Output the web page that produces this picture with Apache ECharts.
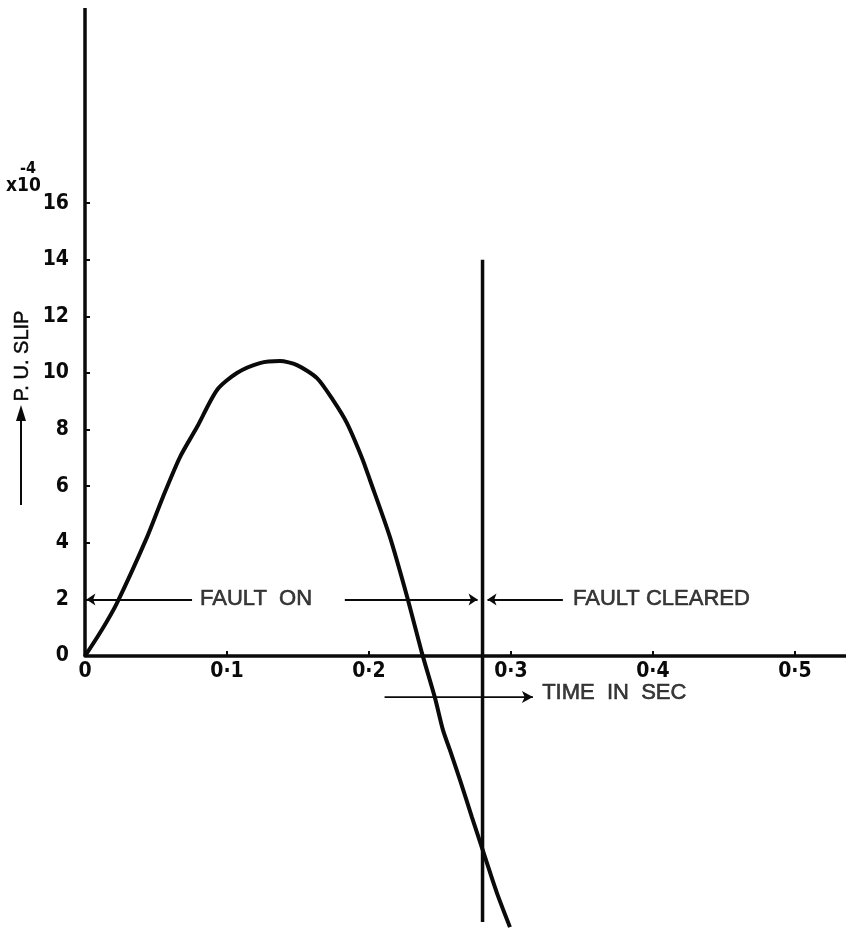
<!DOCTYPE html>
<html>
<head>
<meta charset="utf-8">
<title>P.U. slip vs time</title>
<script src="https://cdn.jsdelivr.net/npm/echarts@6/dist/echarts.min.js"></script>
<style>
  html, body { margin: 0; padding: 0; background: #ffffff; }
  #chart { width: 846px; height: 929px; }
</style>
</head>
<body>
<div id="chart"></div>
<script>
// Rotor slip (per unit, x10^-4) against time (s) during and after a fault
const timeSec = [0, 0.0118, 0.0225, 0.0437, 0.0549, 0.0669, 0.0789, 0.0930, 0.1070, 0.1232,
  0.1373, 0.1493, 0.1634, 0.1746, 0.1845, 0.1951, 0.2007, 0.2148, 0.2275, 0.2373,
  0.2465, 0.2521, 0.2570, 0.2641, 0.2725, 0.2817, 0.2901, 0.2993];
const puSlip = [0, 0.92, 1.87, 4.20, 5.62, 7.03, 8.09, 9.40, 10.0, 10.35,
  10.42, 10.28, 9.82, 9.05, 8.23, 7.00, 6.22, 4.20, 1.98, 0.11,
  -1.48, -2.61, -3.32, -4.38, -5.69, -7.10, -8.37, -9.58];

// Axis ticks and labels
const yTickValues = [2, 4, 6, 8, 10, 12, 14, 16];
const yLabelValues = [0, 2, 4, 6, 8, 10, 12, 14, 16];
const xTickValues = [0.1, 0.2, 0.3, 0.4, 0.5];
const xLabelValues = [0, 0.1, 0.2, 0.3, 0.4, 0.5];

// Fault clearing instant and the vertical marker through it
const faultClearTime = 0.28;
const faultMarkerTop = 14;
const faultMarkerBottom = -9.4;

// Extent of the drawn slip axis
const slipAxisTop = 22.9;

// Arrows along the slip = 2 line [fromTime, toTime, slip]
const faultArrows = [
  [0.0754, 0.001, 2],
  [0.183, 0.2765, 2],
  [0.3366, 0.2835, 2]
];
// Arrow under the time axis [fromTime, toTime, slip]
const timeArrow = [0.211, 0.3155, -1.45];

// Annotation texts [time, slip, text]
const annotationTexts = [
  [0.081, 2, 'FAULT  ON'],
  [0.3437, 2, 'FAULT CLEARED'],
  [0.322, -1.3, 'TIME  IN  SEC']
];

const INK = '#0a0a0a';
const FONT = "'Liberation Sans', Arial, sans-serif";
const NUM_FONT = "'Liberation Sans Narrow', 'DejaVu Sans Condensed', sans-serif";

const chart = echarts.init(document.getElementById('chart'), null, { renderer: 'canvas' });

const curveData = timeSec.map((t, i) => [t, puSlip[i]]);

const option = {
  backgroundColor: '#ffffff',
  animation: false,
  // the plotting area ends at zero slip; the negative part of the swing is drawn unclipped below it
  grid: { left: 85, right: 0, top: 5.1, bottom: 273, containLabel: false, outerBoundsMode: 'none' },
  xAxis: {
    type: 'value',
    min: 0,
    max: 0.536,
    axisLine: { show: true, onZero: false, lineStyle: { color: INK, width: 3.5 } },
    axisTick: {
      show: true, inside: true, length: 5, customValues: xTickValues,
      lineStyle: { color: INK, width: 2 }
    },
    axisLabel: {
      show: true, customValues: xLabelValues, margin: 5,
      color: INK, fontFamily: NUM_FONT, fontWeight: 'bold', fontSize: 21,
      formatter: v => (v === 0 ? '0' : v.toFixed(1).replace('.', '·'))
    },
    splitLine: { show: false }
  },
  yAxis: {
    type: 'value',
    min: 0,
    max: 23,
    axisLine: { show: false },
    axisTick: {
      show: true, inside: true, length: 5, customValues: yTickValues,
      lineStyle: { color: INK, width: 2 }
    },
    axisLabel: {
      show: true, customValues: yLabelValues, margin: 16,
      color: INK, fontFamily: NUM_FONT, fontWeight: 'bold', fontSize: 21
    },
    splitLine: { show: false }
  },
  series: [
    {
      name: 'slip',
      type: 'line',
      data: curveData,
      showSymbol: false,
      smooth: 0.25,
      clip: false,
      lineStyle: { color: INK, width: 4 },
      z: 4
    },
    {
      name: 'slip axis',
      type: 'line',
      data: [[0, 0], [0, slipAxisTop]],
      showSymbol: false,
      clip: false,
      lineStyle: { color: INK, width: 3.5 },
      z: 3
    },
    {
      name: 'fault cleared',
      type: 'line',
      data: [[faultClearTime, faultMarkerTop], [faultClearTime, faultMarkerBottom]],
      showSymbol: false,
      clip: false,
      lineStyle: { color: INK, width: 3.5 },
      z: 3,
      markLine: {
        silent: true,
        symbol: ['none', 'arrow'],
        symbolSize: 9,
        label: { show: false },
        lineStyle: { color: INK, width: 1.8, type: 'solid' },
        itemStyle: { color: INK },
        emphasis: { disabled: true },
        data: faultArrows.map(a => [
          { coord: [a[0], a[2]] },
          { coord: [a[1], a[2]] }
        ])
      }
    },
    {
      name: 'time arrow',
      type: 'line',
      clip: false,
      silent: true,
      showSymbol: true,
      symbol: 'none',
      lineStyle: { color: INK, width: 1.8 },
      itemStyle: { color: INK },
      data: [
        { value: [timeArrow[0], timeArrow[2]], symbol: 'none' },
        { value: [timeArrow[1], timeArrow[2]], symbol: 'arrow', symbolSize: [9, 11], symbolRotate: -90 }
      ],
      z: 3
    },
    {
      name: 'notes',
      type: 'scatter',
      symbolSize: 0,
      clip: false,
      silent: true,
      data: annotationTexts.map(a => ({ value: [a[0], a[1]], name: a[2] })),
      label: {
        show: true,
        position: 'right',
        distance: 0,
        formatter: '{b}',
        color: INK,
        fontFamily: FONT,
        fontSize: 22,
        textBorderColor: INK,
        textBorderWidth: 0.6
      },
      z: 5
    }
  ],
  graphic: [
    {
      type: 'text',
      left: 6, top: 177,
      style: { text: 'x10', fill: INK, font: "bold 19px " + NUM_FONT }
    },
    {
      type: 'text',
      left: 20, top: 161,
      style: { text: '-4', fill: INK, font: "bold 16px " + NUM_FONT }
    },
    {
      type: 'text',
      x: 22, y: 356,
      rotation: Math.PI / 2,
      style: {
        text: 'P. U. SLIP', fill: INK, font: "20px " + FONT,
        align: 'center', verticalAlign: 'middle',
        stroke: INK, lineWidth: 0.5
      }
    },
    {
      type: 'line',
      shape: { x1: 21, y1: 505, x2: 21, y2: 418 },
      style: { stroke: INK, lineWidth: 2 }
    },
    {
      type: 'polygon',
      shape: { points: [[21, 405], [16, 421], [26, 421]] },
      style: { fill: INK }
    }
  ]
};

chart.setOption(option);
</script>
</body>
</html>
